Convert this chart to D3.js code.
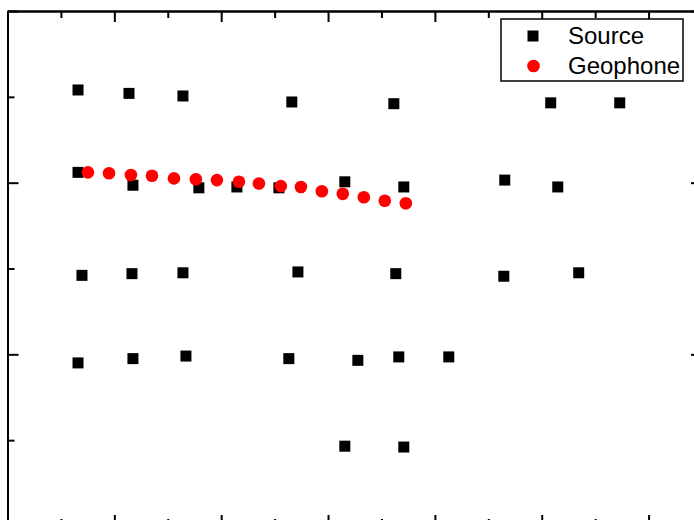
<!DOCTYPE html>
<html>
<head>
<meta charset="utf-8">
<script src="https://cdn.jsdelivr.net/npm/d3@7"></script>
<style>
  html, body { margin: 0; padding: 0; background: #fff; }
  svg { display: block; }
</style>
</head>
<body>
<svg id="chart" width="694" height="520"></svg>
<script>
// ---- data (arbitrary units) ----
const sourceX = [6.60, 11.37, 16.42, 26.61, 36.16, 50.84, 57.30,
                 6.60, 11.74, 17.91, 21.47, 25.40, 31.57, 37.09, 46.54, 51.50,
                 6.97, 11.65, 16.42, 27.18, 36.34, 46.45, 53.46,
                 6.60, 11.74, 16.70, 26.33, 32.79, 36.62, 41.30,
                 31.57, 37.09];
const sourceY = [5.08, 5.04, 5.01, 4.94, 4.92, 4.93, 4.93,
                 4.12, 3.97, 3.94, 3.95, 3.94, 4.01, 3.95, 4.03, 3.95,
                 2.92, 2.94, 2.95, 2.96, 2.94, 2.91, 2.95,
                 1.90, 1.95, 1.98, 1.95, 1.93, 1.97, 1.97,
                 0.93, 0.92];
const geophoneX = [7.53, 9.50, 11.55, 13.52, 15.58, 17.63, 19.60, 21.66,
                   23.53, 25.58, 27.46, 29.42, 31.38, 33.35, 35.31, 37.28];
const geophoneY = [4.12, 4.11, 4.09, 4.08, 4.05, 4.04, 4.03, 4.01,
                   3.99, 3.96, 3.95, 3.90, 3.87, 3.83, 3.79, 3.76];
const xMajorTicks = [0, 10, 20, 30, 40, 50, 60];
const xMinorTicks = [5, 15, 25, 35, 45, 55, 65];
const yMajorTicks = [0, 2, 4, 6];
const yMinorTicks = [1, 3, 5];
const seriesNames = ["Source", "Geophone"];
const seriesColors = ["#000000", "#ff0000"];

// ---- scales ----
const svg = d3.select("#chart");
const x = d3.scaleLinear().domain([0, 65]).range([7.5, 702]);
const y = d3.scaleLinear().domain([0, 6]).range([526, 11]);

function styleAxis(g) {
  g.selectAll("path.domain").attr("stroke", "#000").attr("stroke-width", 2);
  g.selectAll(".tick line").attr("stroke", "#000").attr("stroke-width", 2);
  g.selectAll(".tick text").remove();
}

[[d3.axisBottom, x, `translate(0,${y(0)})`, xMajorTicks, xMinorTicks],
 [d3.axisTop, x, `translate(0,${y(6)})`, xMajorTicks, xMinorTicks],
 [d3.axisLeft, y, `translate(${x(0)},0)`, yMajorTicks, yMinorTicks],
 [d3.axisRight, y, `translate(${x(65)},0)`, yMajorTicks, yMinorTicks]
].forEach(([fn, sc, tr, maj, min]) => {
  svg.append("g").attr("transform", tr)
    .call(fn(sc).tickValues(min).tickSizeInner(-7).tickSizeOuter(0).tickFormat(""))
    .call(styleAxis);
  svg.append("g").attr("transform", tr)
    .call(fn(sc).tickValues(maj).tickSizeInner(-11).tickSizeOuter(0).tickFormat(""))
    .call(styleAxis);
});

// ---- marks ----
const sq = 11;
svg.append("g").selectAll("rect")
  .data(d3.range(sourceX.length))
  .join("rect")
  .attr("x", i => x(sourceX[i]) - sq / 2)
  .attr("y", i => y(sourceY[i]) - sq / 2)
  .attr("width", sq).attr("height", sq)
  .attr("fill", seriesColors[0]);

svg.append("g").selectAll("circle")
  .data(d3.range(geophoneX.length))
  .join("circle")
  .attr("cx", i => x(geophoneX[i]))
  .attr("cy", i => y(geophoneY[i]))
  .attr("r", 6.3)
  .attr("fill", seriesColors[1]);

// ---- legend ----
const lg = svg.append("g");
lg.append("rect").attr("x", 501).attr("y", 19).attr("width", 182).attr("height", 62)
  .attr("fill", "#fff").attr("stroke", "#000").attr("stroke-width", 1.5);
lg.append("rect").attr("x", 533 - sq / 2).attr("y", 36 - sq / 2)
  .attr("width", sq).attr("height", sq).attr("fill", seriesColors[0]);
lg.append("circle").attr("cx", 533.5).attr("cy", 66).attr("r", 6.3).attr("fill", seriesColors[1]);
lg.selectAll("text").data(seriesNames).join("text")
  .attr("x", 568)
  .attr("y", (d, i) => 44 + i * 30)
  .attr("font-family", "Liberation Sans, Arial, sans-serif")
  .attr("font-size", 24)
  .attr("fill", "#000")
  .text(d => d);
</script>
</body>
</html>
